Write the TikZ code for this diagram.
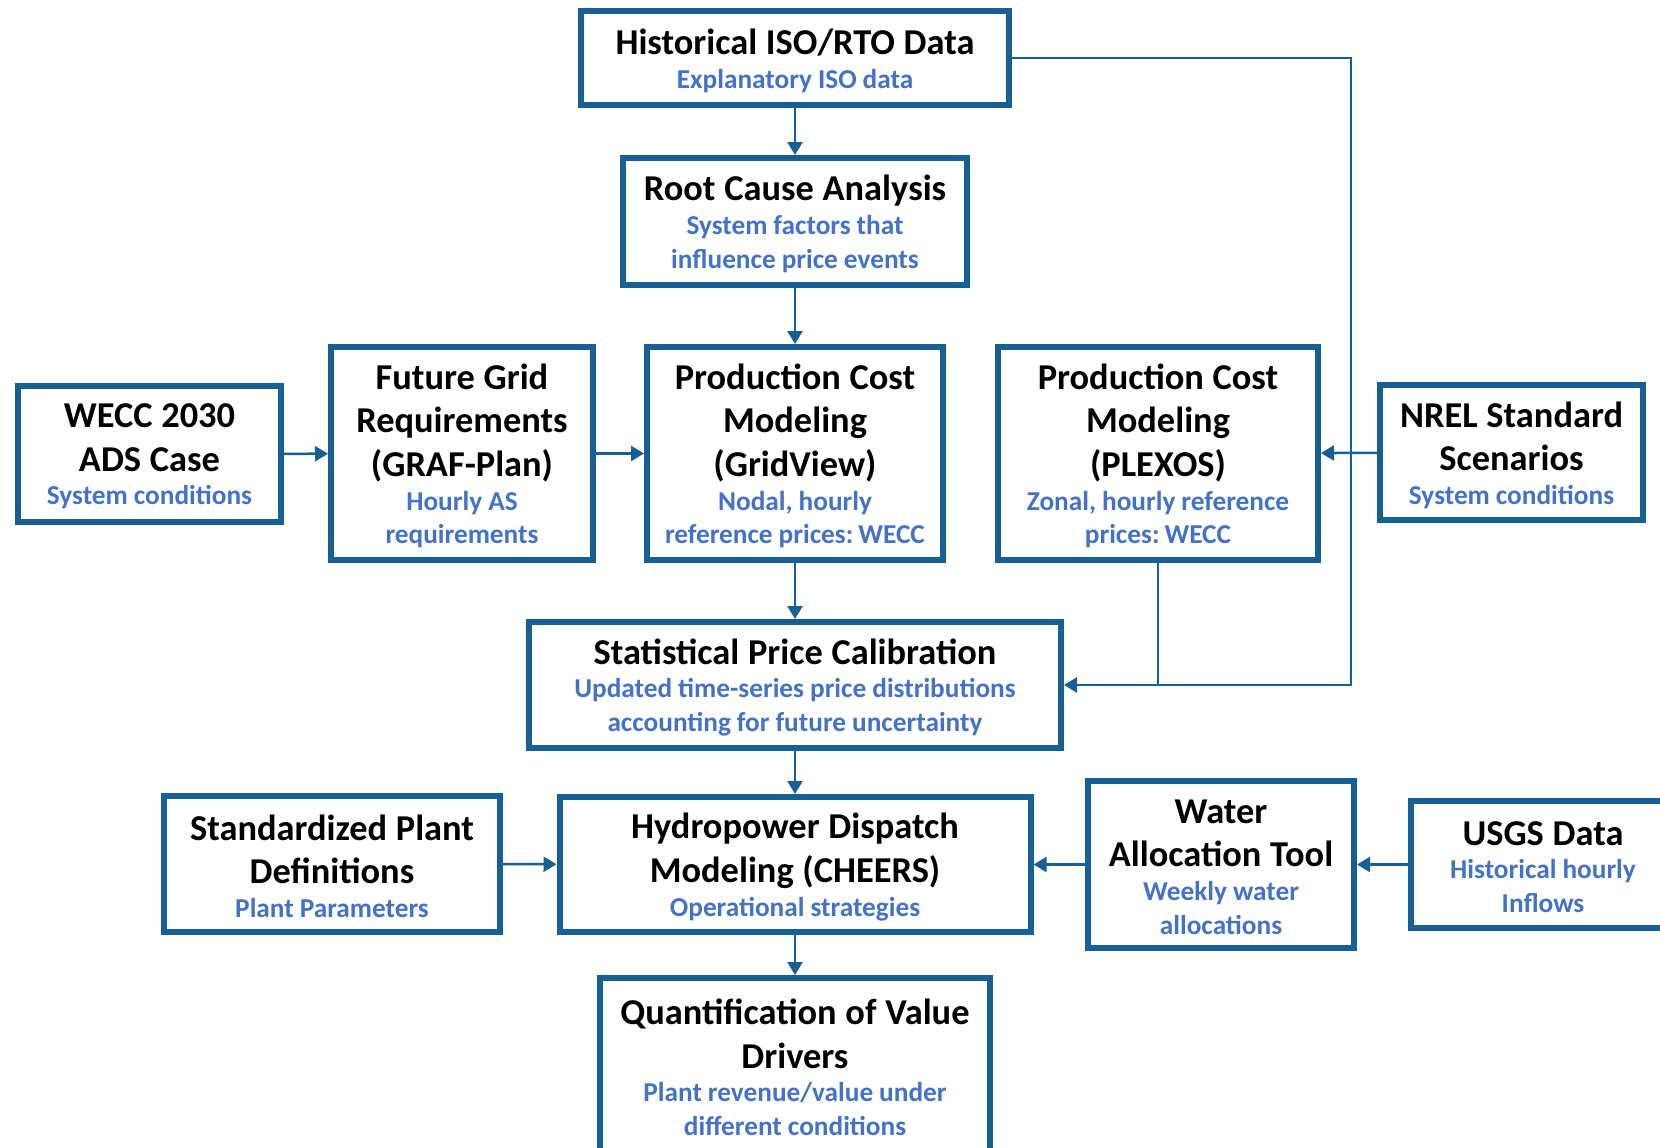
\documentclass[tikz,border=0pt]{standalone}
\usepackage{fontspec}
\setmainfont{Carlito}
\usetikzlibrary{arrows.meta}
\definecolor{boxblue}{RGB}{22,96,150}
\definecolor{subblue}{RGB}{68,114,196}
\newcommand{\ttlfont}{\bfseries\fontsize{36.4}{43.4}\selectfont\spaceskip=.24em\relax}
\newcommand{\subfnt}{\bfseries\fontsize{27.3}{33.8}\selectfont\spaceskip=.22em\relax\color{subblue}}
\newcommand{\boxtext}[2]{{\ttlfont #1\par}{\subfnt #2\par}\kern-5pt}
\tikzset{
	blk/.style={draw=boxblue, line width=6pt, fill=white, inner sep=0pt, align=center},
	link/.style={draw=boxblue, line width=2.5pt},
	flow/.style={link, -{Triangle[length=13pt,width=15pt]}}
}

\begin{document}
\begin{tikzpicture}[x=1pt, y=-1pt]
			%%%%% START %%%%%
			\clip (0, 0) rectangle (1660, 1148);
			
			\node[blk, text width=428pt, minimum height=94pt] (hist) at (795, 58) {\boxtext{Historical ISO/RTO Data}{Explanatory ISO data}};
			\node[blk, text width=344pt, minimum height=127pt] (root) at (795, 221.5) {\boxtext{Root Cause Analysis}{System factors that\\influence price events}};
			
			\node[blk, text width=263pt, minimum height=136pt] (wecc) at (149.5, 454) {\boxtext{WECC 2030\\ADS Case}{System conditions}};
			\node[blk, text width=262pt, minimum height=213pt] (graf) at (462, 453.5) {\boxtext{Future Grid\\Requirements\\(GRAF-Plan)}{Hourly AS\\requirements}};
			\node[blk, text width=296pt, minimum height=213pt] (gridv) at (795, 453.5) {\boxtext{Production Cost\\Modeling\\(GridView)}{Nodal, hourly\\reference prices: WECC}};
			\node[blk, text width=320pt, minimum height=213pt] (plexos) at (1158, 453.5) {\boxtext{Production Cost\\Modeling\\(PLEXOS)}{Zonal, hourly reference\\prices: WECC}};
			\node[blk, text width=263pt, minimum height=135pt] (nrel) at (1511.5, 452.5) {\boxtext{NREL Standard\\Scenarios}{System conditions}};
			
			\node[blk, text width=532pt, minimum height=126pt] (stat) at (795, 685) {\boxtext{Statistical Price Calibration}{Updated time-series price distributions\\accounting for future uncertainty}};
			
			\node[blk, text width=336pt, minimum height=136pt] (std) at (332, 864) {\boxtext{Standardized Plant\\Definitions}{Plant Parameters}};
			\node[blk, text width=471pt, minimum height=135pt] (hydro) at (795, 864.5) {\boxtext{Hydropower Dispatch\\Modeling (CHEERS)}{Operational strategies}};
			\node[blk, text width=266pt, minimum height=167pt] (water) at (1221, 864.5) {\boxtext{Water\\Allocation Tool}{Weekly water\\allocations}};
			\node[blk, text width=264pt, minimum height=127pt] (usgs) at (1543, 864.5) {\boxtext{USGS Data}{Historical hourly\\Inflows}};
			
			\node[blk, text width=390pt, minimum height=174pt] (quant) at (795, 1065) {\boxtext{Quantification of Value\\Drivers}{Plant revenue/value under\\different conditions}};
			
			% vertical chain
			\draw[flow] (hist) -- (root);
			\draw[flow] (root) -- (gridv);
			\draw[flow] (gridv) -- (stat);
			\draw[flow] (stat) -- (hydro);
			\draw[flow] (hydro) -- (quant);
			
			% side inputs
			\draw[flow] (wecc) -- (graf);
			\draw[flow] (graf) -- (gridv);
			\draw[flow] (nrel) -- (plexos);
			\draw[flow] (std) -- (hydro);
			\draw[flow] (water) -- (hydro);
			\draw[flow] (usgs) -- (water);
			
			% feedback into calibration
			\coordinate (busr) at (1351, 58);
			\draw[link] (plexos.south) -- (plexos.south |- stat.east);
			\draw[flow] (hist.east) -- (busr) |- (stat.east);
			
			%%%%% END %%%%%
		\end{tikzpicture}
\end{document}
